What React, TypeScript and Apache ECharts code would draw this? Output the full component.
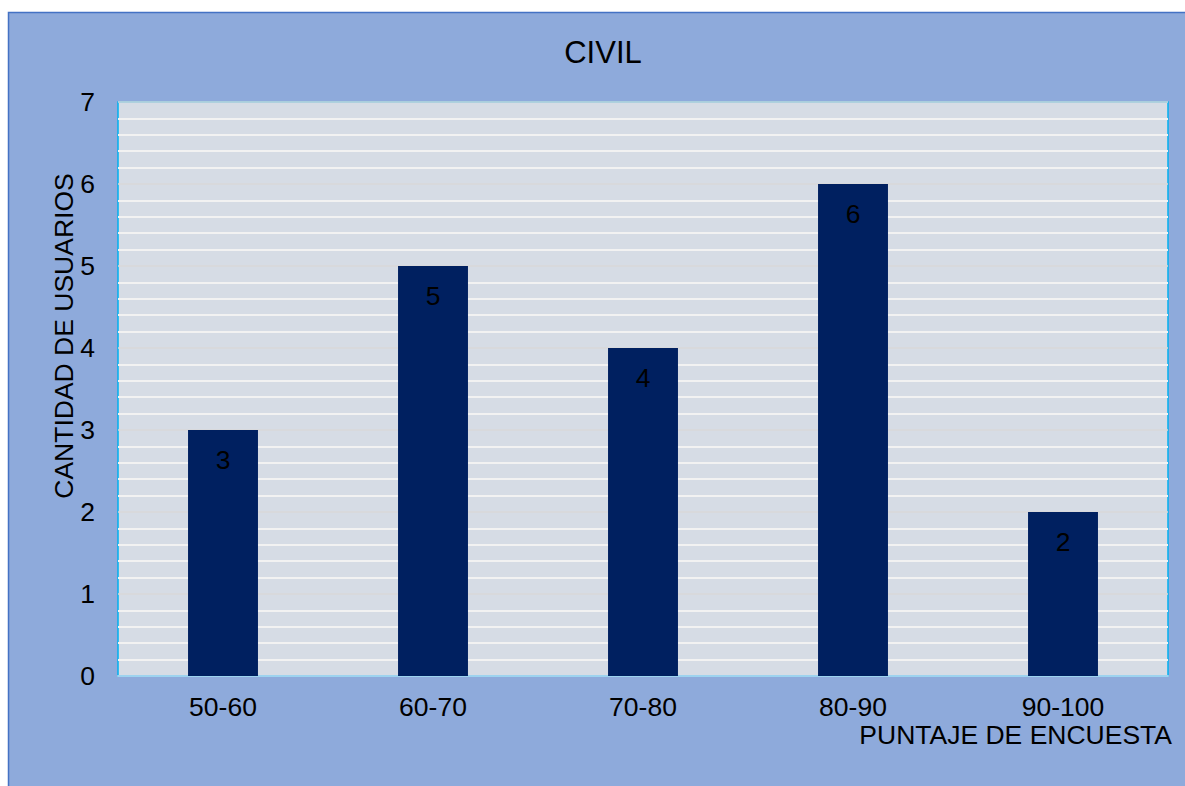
import React, { useEffect, useRef } from "react";
import * as echarts from "echarts";

const categories = ["50-60", "60-70", "70-80", "80-90", "90-100"];
const values = [3, 5, 4, 6, 2];
const yTicks = [0, 1, 2, 3, 4, 5, 6, 7];
const titleText = "CIVIL";
const xName = "PUNTAJE DE ENCUESTA";
const yName = "CANTIDAD DE USUARIOS";

const FONT = "'Liberation Sans', Arial, sans-serif";
const FS = 26.5;

export default function App() {
  const ref = useRef<HTMLDivElement>(null);
  useEffect(() => {
    if (!ref.current) return;
    const chart = echarts.init(ref.current, null, { renderer: "svg" });
    chart.setOption({
      animation: false,
      backgroundColor: "#ffffff",
      textStyle: { fontFamily: FONT },
      graphic: [
        {
          type: "rect",
          z: -10,
          silent: true,
          shape: { x: 8.5, y: 12.5, width: 1200, height: 800 },
          style: { fill: "#8EAADB", stroke: "#4472C4", lineWidth: 1.5 },
        },
        {
          type: "text",
          x: 603,
          y: 52,
          style: {
            text: titleText,
            fontFamily: FONT,
            fontSize: 31,
            fill: "#000",
            align: "center",
            verticalAlign: "middle",
          },
        },
        {
          type: "text",
          x: 1172,
          y: 735,
          style: {
            text: xName,
            fontFamily: FONT,
            fontSize: FS,
            lineHeight: 20,
            fill: "#000",
            align: "right",
            verticalAlign: "middle",
          },
        },
        {
          type: "text",
          x: 64,
          y: 336,
          rotation: Math.PI / 2,
          style: {
            text: yName,
            fontFamily: FONT,
            fontSize: FS,
            fill: "#000",
            align: "center",
            verticalAlign: "middle",
          },
        },
      ],
      grid: {
        left: 118,
        top: 102,
        width: 1050,
        height: 574,
        show: true,
        backgroundColor: "#D6DCE5",
        borderColor: "#00B0F0",
        borderWidth: 1.5,
      },
      xAxis: {
        type: "category",
        data: categories,
        axisLine: { show: true, lineStyle: { color: "#9DD3EF", width: 2 } },
        axisTick: { show: false },
        axisLabel: {
          color: "#000",
          fontSize: FS,
          lineHeight: 20,
          fontFamily: FONT,
          margin: 21,
        },
        splitLine: { show: false },
      },
      yAxis: {
        type: "value",
        min: yTicks[0],
        max: yTicks[yTicks.length - 1],
        interval: 1,
        axisLine: { show: false },
        axisTick: { show: false },
        axisLabel: { color: "#000", fontSize: FS, fontFamily: FONT, margin: 23 },
        splitLine: { show: true, lineStyle: { color: "#D9D9D9", width: 1.5 } },
        minorTick: { show: false, splitNumber: 5 },
        minorSplitLine: { show: true, lineStyle: { color: "#F2F2F2", width: 2 } },
      },
      series: [
        {
          type: "bar",
          data: values,
          barWidth: "33.3%",
          itemStyle: { color: "#002060" },
          label: {
            show: true,
            position: "insideTop",
            distance: 16,
            color: "#000",
            fontSize: FS,
            fontFamily: FONT,
          },
        },
      ],
    });
    return () => chart.dispose();
  }, []);
  return (
    <div
      ref={ref}
      style={{ position: "absolute", left: 0, top: 0, width: 1185, height: 786 }}
    />
  );
}
